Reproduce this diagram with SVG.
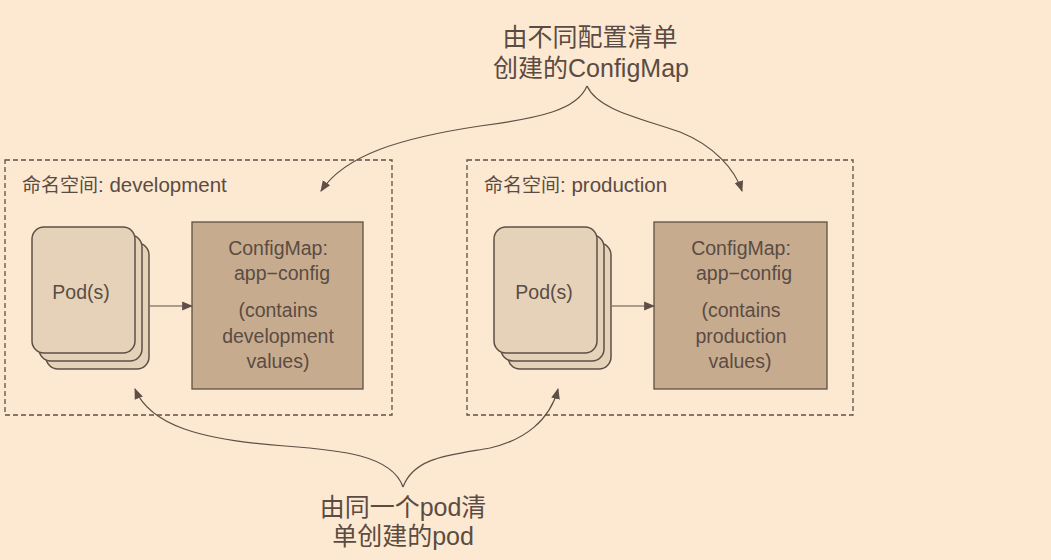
<svg xmlns="http://www.w3.org/2000/svg" width="1051" height="560" viewBox="0 0 1051 560">
  <defs>
    <marker id="arr" viewBox="0 0 10 10" refX="9" refY="5" markerWidth="11" markerHeight="11" markerUnits="userSpaceOnUse" orient="auto">
      <path d="M0,1 L10,5 L0,9 z" fill="#5e5047"/>
    </marker>
    <style>
      .ns { fill: none; stroke: #5e5047; stroke-width: 1.3; stroke-dasharray: 5 3; }
      .pod { fill: #e6d2b9; stroke: #5e5047; stroke-width: 1.5; }
      .cm { fill: #c7ab8e; stroke: #5e5047; stroke-width: 1.3; }
      .t { font-family: "Liberation Sans", "Noto Sans CJK SC", sans-serif; fill: #5a4c43; }
      .lbl { font-size: 19px; }
      .lat { font-size: 20.5px; }
      .body { font-size: 19.5px; text-anchor: middle; }
      .note { font-size: 25px; text-anchor: middle; }
      .conn { fill: none; stroke: #5e5047; stroke-width: 1.2; }
    </style>
  </defs>
  <rect width="1051" height="560" fill="#fde8d1"/>

  <g id="ns-development">
    <rect class="ns" x="5" y="160" width="387" height="255"/>
    <text class="t lbl" x="22" y="192">命名空间<tspan class="lat">: development</tspan></text>
  </g>
  <g id="pods-development">
    <rect class="pod" x="46" y="243" width="103" height="126" rx="12"/>
    <rect class="pod" x="39" y="235" width="103" height="126" rx="12"/>
    <rect class="pod" x="32" y="227" width="103" height="126" rx="12"/>
    <text class="t body" x="81" y="299">Pod(s)</text>
  </g>
  <g id="configmap-development">
    <rect class="cm" x="192" y="222" width="171" height="167"/>
    <text class="t body" x="278" y="255">ConfigMap:</text>
    <text class="t body" x="282" y="280">app−config</text>
    <text class="t body" x="278" y="317">(contains</text>
    <text class="t body" x="278" y="343">development</text>
    <text class="t body" x="278" y="368">values)</text>
  </g>

  <g id="ns-production">
    <rect class="ns" x="467" y="160" width="386" height="255"/>
    <text class="t lbl" x="484" y="192">命名空间<tspan class="lat">: production</tspan></text>
  </g>
  <g id="pods-production">
    <rect class="pod" x="508" y="243" width="103" height="126" rx="12"/>
    <rect class="pod" x="501" y="235" width="103" height="126" rx="12"/>
    <rect class="pod" x="494" y="227" width="103" height="126" rx="12"/>
    <text class="t body" x="544" y="299">Pod(s)</text>
  </g>
  <g id="configmap-production">
    <rect class="cm" x="654" y="222" width="173" height="167"/>
    <text class="t body" x="741" y="255">ConfigMap:</text>
    <text class="t body" x="744" y="280">app−config</text>
    <text class="t body" x="741" y="317">(contains</text>
    <text class="t body" x="741" y="343">production</text>
    <text class="t body" x="740" y="368">values)</text>
  </g>

  <g id="note-configmap">
    <text class="t note" x="590" y="46">由不同配置清单</text>
    <text class="t note" x="591" y="77">创建的ConfigMap</text>
  </g>
  <g id="note-pod">
    <text class="t note" x="403" y="516">由同一个pod清</text>
    <text class="t note" x="403" y="545">单创建的pod</text>
  </g>

  <g id="connectors">
    <path class="conn" d="M150,306 L192,306" marker-end="url(#arr)"/>
    <path class="conn" d="M612,306 L654,306" marker-end="url(#arr)"/>
    <path class="conn" d="M587,86 C577,110 540,118 480,126 C400,138 345,155 321,191" marker-end="url(#arr)"/>
    <path class="conn" d="M587,86 C598,110 640,118 680,132 C715,146 735,170 742,191" marker-end="url(#arr)"/>
    <path class="conn" d="M403,487 C392,455 340,450 285,446 C200,440 150,425 135,389" marker-end="url(#arr)"/>
    <path class="conn" d="M403,487 C414,457 450,455 490,448 C525,440 550,420 558,389" marker-end="url(#arr)"/>
  </g>
</svg>
